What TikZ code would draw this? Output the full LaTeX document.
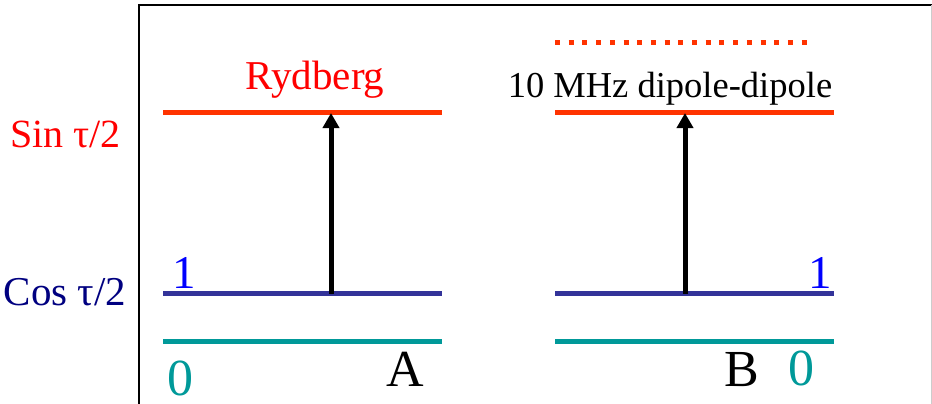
\documentclass[tikz,border=0pt]{standalone}
\usepackage{fontspec}
\setmainfont{Liberation Serif}
\usetikzlibrary{arrows.meta}
\definecolor{rydred}{HTML}{FF3300}
\definecolor{txtred}{HTML}{FF0000}
\definecolor{lvlblue}{HTML}{333399}
\definecolor{txtnavy}{HTML}{000080}
\definecolor{txtblue}{HTML}{0000FF}
\definecolor{lvlteal}{HTML}{009999}
\tikzset{
  level/.style={line width=5pt},
  lbl/.style={inner sep=0pt, anchor=base},
  excite/.style={line width=5pt, -{Triangle[length=15pt,width=16pt]}, shorten >=0pt},
}
\begin{document}
\begin{tikzpicture}[x=1pt,y=-1pt]
\useasboundingbox (0,0) rectangle (932,404);
% frame
\draw[line width=2pt] (139.3,404) -- (139.3,4.7) -- (932,4.7);
\draw[gray!40, line width=1pt] (931.5,5.5) -- (931.5,404);
% level coordinates
\coordinate (rAl) at (163,112.5); \coordinate (rAr) at (442,112.5);
\coordinate (rBl) at (555,112.5); \coordinate (rBr) at (834,112.5);
\coordinate (oAl) at (163,293.5); \coordinate (oAr) at (442,293.5);
\coordinate (oBl) at (555,293.5); \coordinate (oBr) at (834,293.5);
\coordinate (zAl) at (163,341.5); \coordinate (zAr) at (442,341.5);
\coordinate (zBl) at (555,341.5); \coordinate (zBr) at (834,341.5);
\coordinate (dBl) at (555,42.5); \coordinate (dBr) at (808,42.5);
% levels
\draw[level, rydred] (rAl) -- (rAr);
\draw[level, rydred] (rBl) -- (rBr);
\draw[level, lvlblue] (oAl) -- (oAr);
\draw[level, lvlblue] (oBl) -- (oBr);
\draw[level, lvlteal] (zAl) -- (zAr);
\draw[level, lvlteal] (zBl) -- (zBr);
\draw[rydred, line width=5pt, dash pattern=on 5pt off 8.7pt] (dBl) -- (dBr);
% arrows
\coordinate (aA0) at (331,293.5); \coordinate (aA1) at (331,113);
\coordinate (aB0) at (685,293.5); \coordinate (aB1) at (685,113);
\draw[excite] (aA0) -- (aA1);
\draw[excite] (aB0) -- (aB1);
% labels
\node[lbl, text=txtred, font=\fontsize{41}{41}\selectfont] (ryd) at (315,89) {Rydberg};
\node[lbl, font=\fontsize{36.5}{36.5}\selectfont] (dd) at (670,98) {10 MHz dipole-dipole};
\node[lbl, text=txtred, font=\fontsize{40}{40}\selectfont] (sin) at (65.5,147) {Sin τ/2};
\node[lbl, text=txtnavy, font=\fontsize{41}{41}\selectfont] (cos) at (65,305) {Cos τ/2};
\node[lbl, text=txtblue, font=\fontsize{47}{47}\selectfont] (oneA) at (184,288) {1};
\node[lbl, text=txtblue, font=\fontsize{47}{47}\selectfont] (oneB) at (820,288) {1};
\node[lbl, text=lvlteal, font=\fontsize{52}{52}\selectfont] (zeroA) at (180.5,395) {0};
\node[lbl, text=lvlteal, font=\fontsize{52}{52}\selectfont] (zeroB) at (801.5,385) {0};
\node[lbl, font=\fontsize{52}{52}\selectfont] (labA) at (405,386) {A};
\node[lbl, font=\fontsize{52}{52}\selectfont] (labB) at (742,386) {B};
\end{tikzpicture}
\end{document}
